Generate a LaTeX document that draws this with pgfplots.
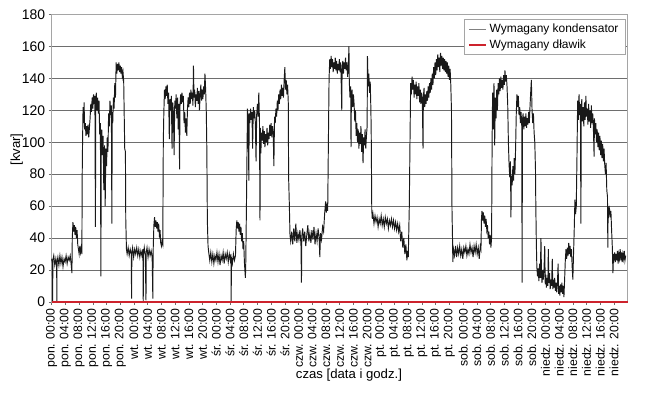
\documentclass[border=0pt]{standalone}
\usepackage{fontspec}
\setmainfont{Liberation Sans}
\usepackage{pgfplots}
\pgfplotsset{compat=1.18}
\definecolor{gridc}{RGB}{110,110,110}
\definecolor{framec}{RGB}{165,165,165}
\definecolor{trace}{RGB}{25,25,25}
\definecolor{redline}{RGB}{205,35,45}
\begin{document}
\begin{tikzpicture}
\begin{axis}[
 scale only axis,
 width=576bp, height=287.4bp,
 xmin=0, xmax=168, ymin=0, ymax=180,
 ytick={0,20,...,180},
 xtick={0,4,...,164},
 xticklabels={pon. 00:00,pon. 04:00,pon. 08:00,pon. 12:00,pon. 16:00,pon. 20:00,
  wt. 00:00,wt. 04:00,wt. 08:00,wt. 12:00,wt. 16:00,wt. 20:00,
  śr. 00:00,śr. 04:00,śr. 08:00,śr. 12:00,śr. 16:00,śr. 20:00,
  czw. 00:00,czw. 04:00,czw. 08:00,czw. 12:00,czw. 16:00,czw. 20:00,
  pt. 00:00,pt. 04:00,pt. 08:00,pt. 12:00,pt. 16:00,pt. 20:00,
  sob. 00:00,sob. 04:00,sob. 08:00,sob. 12:00,sob. 16:00,sob. 20:00,
  niedz. 00:00,niedz. 04:00,niedz. 08:00,niedz. 12:00,niedz. 16:00,niedz. 20:00},
 xticklabel style={rotate=90, anchor=east, font=\fontsize{12.3}{12}\selectfont},
 yticklabel style={font=\fontsize{14}{14}\selectfont},
 /pgf/number format/assume math mode=true,
 ymajorgrids, grid style={gridc, line width=0.75bp},
 axis line style={framec, line width=0.8bp},
 tick style={gridc, line width=0.6bp},
 tick align=outside, tick pos=left,
 major tick length=3bp,
 clip=false,
 xlabel={czas [data i godz.]}, ylabel={[kvar]},
 label style={font=\fontsize{13.2}{13}\selectfont},
 xlabel style={at={(axis description cs:0.516,-0.254)}, anchor=center},
 ylabel style={at={(axis description cs:-0.0608,0.53)}, anchor=center},
 legend style={at={(rel axis cs:0.9965,0.9826)}, anchor=north east, draw=framec, fill=white,
   font=\fontsize{12}{13}\selectfont, inner xsep=4bp, inner ysep=2.5bp, row sep=1.5bp,
   nodes={inner xsep=3bp}},
 legend cell align=left,
]
\addplot[trace, line width=0.95bp, legend image post style={gray, line width=0.7bp}] table {
0.0 27
0.2 24
0.28 0
0.34 26
0.6 29
0.9 23
1.2 27
1.45 22
1.5 0
1.56 25
1.8 28
2.1 23
2.4 29
2.7 24
3.0 28
3.3 22
3.6 27
3.9 25
4.2 29
4.5 24
4.8 28
5.1 26
5.4 29
5.7 23
5.9 18
6.0 40
6.2 50
6.4 44
6.6 48
6.8 42
7.0 47
7.2 40
7.4 45
7.6 36
7.8 33
8.0 30
8.2 35
8.4 31
8.6 34
8.8 30
8.9 80
9.0 100
9.15 122
9.3 112
9.45 125
9.6 108
9.8 112
10.0 104
10.2 110
10.4 105
10.6 111
10.8 103
11.0 109
11.2 115
11.4 124
11.6 119
11.8 128
12.0 121
12.2 130
12.4 124
12.6 129
12.75 47
12.85 122
13.0 131
13.2 120
13.4 128
13.6 118
13.8 126
14.0 105
14.2 112
14.35 16
14.45 100
14.6 108
14.8 92
15.0 104
15.2 70
15.4 98
15.6 60
15.8 96
16.0 85
16.2 103
16.4 94
16.6 118
16.8 110
17.0 126
17.2 117
17.4 123
17.55 49
17.65 119
17.8 112
18.0 128
18.2 121
18.4 137
18.6 128
18.8 150
19.0 143
19.2 149
19.4 145
19.6 150
19.8 144
20.0 148
20.2 143
20.4 147
20.6 141
20.8 144
21.0 138
21.1 124
21.3 96
21.5 94
21.6 52
21.8 33
22.0 30
22.3 34
22.6 29
22.9 33
23.2 30
23.3 2
23.38 31
23.6 34
23.9 28
24.2 33
24.5 30
24.8 34
25.1 29
25.4 33
25.7 28
26.0 32
26.3 29
26.6 33
26.7 0
26.78 30
27.0 34
27.3 29
27.5 1
27.58 31
27.8 34
28.1 28
28.4 33
28.7 29
29.0 32
29.3 28
29.5 2
29.58 31
29.8 48
30.0 53
30.2 47
30.4 51
30.6 46
30.8 50
31.0 44
31.2 49
31.4 42
31.6 45
31.8 37
32.0 35
32.2 38
32.4 36
32.55 100
32.7 118
32.9 133
33.1 127
33.3 135
33.5 129
33.7 136
33.9 124
34.1 131
34.3 102
34.5 127
34.7 120
34.9 129
35.1 96
35.3 125
35.5 118
35.7 92
35.9 126
36.1 121
36.3 130
36.5 115
36.7 128
36.9 108
37.1 124
37.3 83
37.4 122
37.6 130
37.8 124
38.0 131
38.2 125
38.4 129
38.6 112
38.8 119
39.0 106
39.2 115
39.4 104
39.6 121
39.8 128
40.0 122
40.2 131
40.4 124
40.6 133
40.8 127
41.0 131
41.2 123
41.35 148
41.5 128
41.7 133
41.9 122
42.1 130
42.3 126
42.5 134
42.7 124
42.9 132
43.1 120
43.3 130
43.5 136
43.7 126
43.9 133
44.1 127
44.3 135
44.5 130
44.7 143
44.9 133
45.1 118
45.25 95
45.4 51
45.6 35
45.8 31
46.1 26
46.4 31
46.7 25
47.0 30
47.3 24
47.6 29
47.9 26
48.2 31
48.5 25
48.8 30
49.1 23
49.4 29
49.7 26
50.0 31
50.3 24
50.6 30
50.9 27
51.2 31
51.5 25
51.8 30
52.1 26
52.3 30
52.35 0
52.42 28
52.7 24
53.0 30
53.3 26
53.6 29
53.8 45
54.0 51
54.2 46
54.4 50
54.6 44
54.8 49
55.0 42
55.2 47
55.4 38
55.6 43
55.8 33
56.0 38
56.2 25
56.4 18
56.5 15
56.6 24
56.8 60
57.0 100
57.1 121
57.3 113
57.5 76
57.6 118
57.8 112
58.0 121
58.2 114
58.4 119
58.6 96
58.8 122
59.0 115
59.2 120
59.4 112
59.6 88
59.8 118
60.0 124
60.2 116
60.4 131
60.6 113
60.75 51
60.85 109
61.0 93
61.2 106
61.4 101
61.6 110
61.8 99
62.0 107
62.2 97
62.4 105
62.6 100
62.8 109
63.0 98
63.2 106
63.4 102
63.6 111
63.8 104
64.0 112
64.2 103
64.4 110
64.6 106
64.8 85
65.0 116
65.2 112
65.4 121
65.6 116
65.8 126
66.0 120
66.2 130
66.4 124
66.6 133
66.8 127
67.0 136
67.2 129
67.4 134
67.6 128
67.8 139
68.0 147
68.2 133
68.4 139
68.6 130
68.8 136
69.0 125
69.1 78
69.3 62
69.5 42
69.7 38
70.0 44
70.3 36
70.6 46
70.9 38
71.2 49
71.5 37
71.8 43
72.1 39
72.4 45
72.7 36
72.85 12
72.95 41
73.2 46
73.5 38
73.8 44
74.1 35
74.4 42
74.7 48
75.0 38
75.3 43
75.6 37
75.9 45
76.2 39
76.5 47
76.8 36
77.1 43
77.4 38
77.7 46
78.0 40
78.2 28
78.4 43
78.7 39
79.0 47
79.3 44
79.6 55
79.9 63
80.1 56
80.3 60
80.5 57
80.7 100
80.9 140
81.1 152
81.3 146
81.5 154
81.7 147
81.9 152
82.1 144
82.3 150
82.5 146
82.7 153
82.9 145
83.1 151
83.3 143
83.5 149
83.7 145
83.9 152
84.1 144
84.3 150
84.5 132
84.6 120
84.7 145
84.9 151
85.1 143
85.3 150
85.5 146
85.7 153
85.9 145
86.1 150
86.3 141
86.5 147
86.7 160
86.8 138
87.0 128
87.2 135
87.3 97
87.4 126
87.6 133
87.8 122
88.0 130
88.2 124
88.4 113
88.6 120
88.8 104
89.0 112
89.2 100
89.4 108
89.6 96
89.8 106
90.0 99
90.2 110
90.4 94
90.6 105
90.8 87
91.0 103
91.2 98
91.4 108
91.6 96
91.8 104
92.0 110
92.1 154
92.3 135
92.5 143
92.7 131
92.9 138
93.1 120
93.2 104
93.35 58
93.5 52
93.7 55
94.0 49
94.3 54
94.6 50
94.9 53
95.2 47
95.5 52
95.8 49
96.1 54
96.4 48
96.7 52
97.0 47
97.3 53
97.6 49
97.9 52
98.2 46
98.5 51
98.8 48
99.1 52
99.4 47
99.7 51
100.0 46
100.3 50
100.6 45
100.9 49
101.2 44
101.5 48
101.8 38
102.1 44
102.4 34
102.7 40
103.0 30
103.3 36
103.6 26
103.8 32
104.0 28
104.3 60
104.5 100
104.7 137
104.9 130
105.1 141
105.3 133
105.5 139
105.7 128
105.9 136
106.1 130
106.3 138
106.5 127
106.7 135
106.9 129
107.1 137
107.3 125
107.5 133
107.7 124
107.9 131
108.1 126
108.3 96
108.4 128
108.6 134
108.8 122
109.0 130
109.2 124
109.4 132
109.6 126
109.8 135
110.0 128
110.2 137
110.4 131
110.6 140
110.8 133
111.0 143
111.2 136
111.4 147
111.6 140
111.8 150
112.0 142
112.2 152
112.4 145
112.6 155
112.8 147
113.0 153
113.2 144
113.4 156
113.6 148
113.8 154
114.0 146
114.2 153
114.4 145
114.6 152
114.8 144
115.0 151
115.2 143
115.4 150
115.6 141
115.8 148
116.0 139
116.2 146
116.4 136
116.6 120
116.75 58
116.9 40
117.0 25
117.2 33
117.5 29
117.8 35
118.1 28
118.4 34
118.7 30
119.0 35
119.3 29
119.6 33
119.9 27
120.2 34
120.5 31
120.8 35
121.1 29
121.4 33
121.7 30
122.0 36
122.3 31
122.6 34
122.9 28
123.2 35
123.5 31
123.8 36
124.1 30
124.4 34
124.7 27
125.0 35
125.2 33
125.35 52
125.5 57
125.7 51
125.9 56
126.1 49
126.3 54
126.5 47
126.7 52
126.9 45
127.1 48
127.3 40
127.5 44
127.7 36
127.9 42
128.1 34
128.3 40
128.45 100
128.6 131
128.8 108
129.0 137
129.2 98
129.4 128
129.6 115
129.8 133
130.0 120
130.2 137
130.4 130
130.6 140
130.8 132
131.0 141
131.2 134
131.4 139
131.6 133
131.8 142
132.0 136
132.2 145
132.4 138
132.6 142
132.8 135
133.0 124
133.2 100
133.4 86
133.6 78
133.8 88
133.95 53
134.05 79
134.3 73
134.5 85
134.7 76
134.9 90
135.1 80
135.3 96
135.5 118
135.7 130
135.9 122
136.1 129
136.3 117
136.5 122
136.7 112
136.9 119
137.1 110
137.2 12
137.3 114
137.5 118
137.7 108
137.9 116
138.1 110
138.3 118
138.5 109
138.7 115
138.9 111
139.1 119
139.3 112
139.5 122
139.7 131
139.9 139
140.1 120
140.3 112
140.5 118
140.7 106
140.9 100
141.1 83
141.2 60
141.35 37
141.5 22
141.7 16
141.9 21
142.1 13
142.3 24
142.5 15
142.7 40
142.85 18
143.0 12
143.2 20
143.4 14
143.6 21
143.8 35
143.95 11
144.1 17
144.3 9
144.5 15
144.7 10
144.85 33
145.0 12
145.2 18
145.4 8
145.6 14
145.8 10
146.0 27
146.15 8
146.3 14
146.5 9
146.7 15
146.9 7
147.1 12
147.3 6
147.5 11
147.7 24
147.85 5
148.0 10
148.2 4
148.4 11
148.6 6
148.8 12
149.0 5
149.2 10
149.4 3
149.6 14
149.8 26
150.0 33
150.2 27
150.4 34
150.6 29
150.8 37
151.0 30
151.2 35
151.4 28
151.6 33
151.8 22
152.0 14
152.2 30
152.4 45
152.6 64
152.8 55
153.0 60
153.2 90
153.4 126
153.6 114
153.8 130
154.0 117
154.2 124
154.35 49
154.45 115
154.6 127
154.8 113
155.0 122
155.2 110
155.4 125
155.6 114
155.8 129
156.0 116
156.2 121
156.4 111
156.6 124
156.8 113
157.0 120
157.2 109
157.4 123
157.6 112
157.8 118
158.0 108
158.2 91
158.3 115
158.5 105
158.7 112
158.9 100
159.1 108
159.3 97
159.5 106
159.7 95
159.9 104
160.1 92
160.3 101
160.5 90
160.7 99
160.9 88
161.1 96
161.3 86
161.5 80
161.7 87
161.9 70
162.1 66
162.2 34
162.3 60
162.5 55
162.7 58
162.9 53
163.1 57
163.3 45
163.5 35
163.7 18
163.85 30
164.0 27
164.2 31
164.4 25
164.6 30
164.8 26
165.0 32
165.2 24
165.4 30
165.6 27
165.8 33
166.0 26
166.2 31
166.4 25
166.6 30
166.8 27
167.0 32
167.2 26
167.4 29
};
\addlegendentry{Wymagany kondensator}
\addplot[redline, line width=1.3bp, legend image post style={line width=1.6bp}] table {
0 0
168 0
};
\addlegendentry{Wymagany dławik}
\end{axis}
\pgfresetboundingbox
\path[use as bounding box] (-51.7bp,-95.1bp) rectangle (603.3bp,301.9bp);
\end{tikzpicture}
\end{document}
